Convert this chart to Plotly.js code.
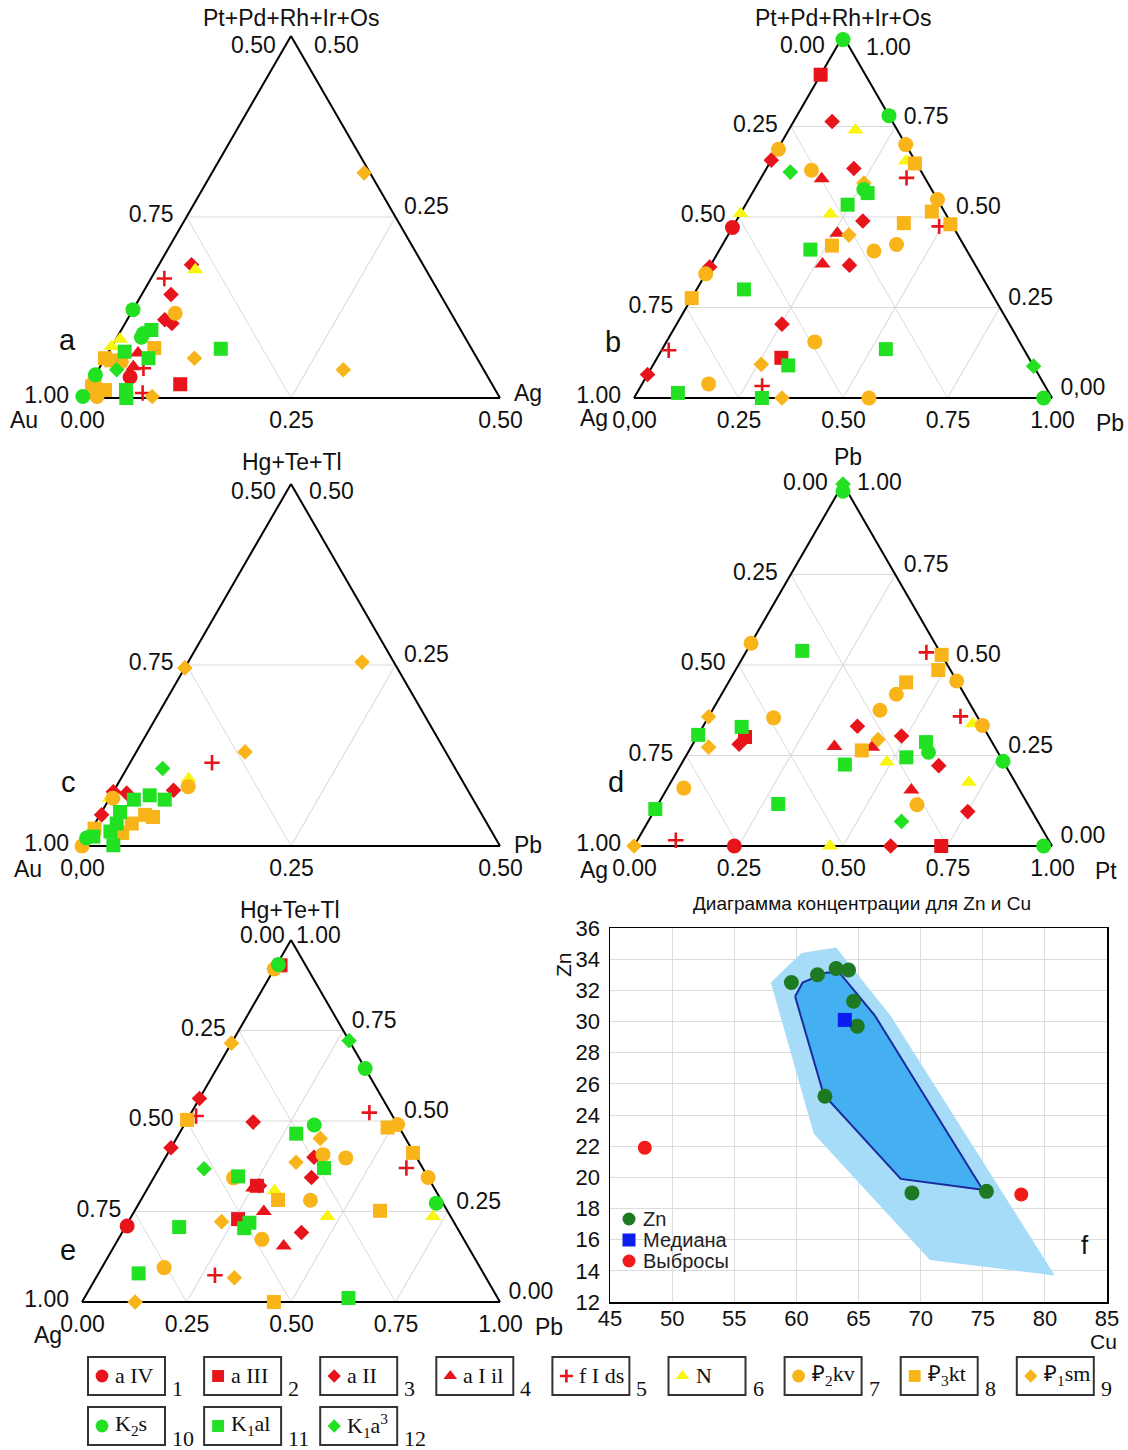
<!DOCTYPE html>
<html><head><meta charset="utf-8">
<script src="https://cdn.plot.ly/plotly-3.0.1.min.js"></script>
<style>html,body{margin:0;padding:0;background:#fff}</style>
</head><body><div id="chart" style="width:1128px;height:1450px"></div>
<script>
// ---------------- DATA ----------------
const categories = ['a IV','a III','a II','a I il','f I ds','N','₽<sub>2</sub>kv','₽<sub>3</sub>kt','₽<sub>1</sub>sm','K<sub>2</sub>s','K<sub>1</sub>al','K<sub>1</sub>a<sup>3</sup>'];
const categoryNumbers = ['1','2','3','4','5','6','7','8','9','10','11','12'];

// Panel a: Pt+Pd+Rh+Ir+Os (top) / Au (left) / Ag (right)
const A_cat   = [3,6,5,3,10,7,3,3,10,11,10,6,8,11,11,4,4,1,5,9,11,2,5,9,11,11,8,7,8,8,8,7,10,10,12,6,9,9,8,7];
const A_top   = [0.184,0.177,0.165,0.143,0.122,0.117,0.108,0.103,0.089,0.094,0.084,0.081,0.069,0.064,0.055,0.062,0.043,0.029,0.041,0.055,0.068,0.019,0.007,0.002,0.011,0.000,0.016,0.002,0.011,0.055,0.052,0.050,0.032,0.002,0.039,0.071,0.311,0.039,0.020,0.008];
const A_left  = [0.777,0.776,0.819,0.822,0.878,0.830,0.847,0.841,0.882,0.870,0.887,0.914,0.879,0.917,0.893,0.902,0.917,0.928,0.906,0.838,0.800,0.873,0.924,0.915,0.942,0.947,0.980,0.981,0.967,0.945,0.939,0.928,0.968,0.998,0.939,0.929,0.507,0.668,0.975,0.980];
const A_right = [0.039,0.047,0.016,0.035,0.000,0.053,0.045,0.056,0.029,0.036,0.029,0.005,0.052,0.019,0.052,0.036,0.040,0.043,0.053,0.107,0.132,0.108,0.069,0.083,0.047,0.053,0.004,0.017,0.022,0.000,0.009,0.022,0.000,0.000,0.022,0.000,0.182,0.293,0.005,0.012];

// Panel b: Pt+Pd+Rh+Ir+Os (top) / Ag (left) / Pb (right)
const B_cat   = [10,10,10,10,12,12,2,2,3,3,3,3,3,3,3,3,6,6,6,6,7,7,7,7,7,7,7,7,7,7,8,8,8,8,8,8,9,9,9,9,11,11,11,11,11,11,11,11,4,4,4,1,5,5,5,5];
const B_top   = [0.99,0.78,0.576,0.00,0.624,0.088,0.893,0.111,0.764,0.634,0.489,0.367,0.657,0.362,0.204,0.065,0.740,0.655,0.508,0.510,0.687,0.629,0.700,0.548,0.406,0.424,0.155,0.039,0.00,0.343,0.648,0.515,0.480,0.483,0.421,0.276,0.450,0.093,0.00,0.594,0.534,0.566,0.410,0.300,0.090,0.135,0.014,0.00,0.606,0.455,0.370,0.471,0.608,0.474,0.132,0.033];
const B_left  = [0.005,0.00,0.162,0.02,0.314,0.00,0.107,0.592,0.144,0.157,0.208,0.301,0.343,0.638,0.544,0.935,0.100,0.022,0.276,0.490,0.311,0.261,0.00,0.00,0.223,0.160,0.490,0.802,0.438,0.657,0.004,0.030,0.003,0.113,0.316,0.724,0.261,0.649,0.646,0.153,0.222,0.158,0.373,0.587,0.586,0.330,0.888,0.694,0.248,0.286,0.364,0.529,0.044,0.033,0.851,0.677];
const B_right = [0.005,0.22,0.262,0.98,0.062,0.912,0.00,0.297,0.092,0.209,0.303,0.332,0.00,0.00,0.252,0.00,0.160,0.323,0.216,0.00,0.002,0.110,0.300,0.452,0.371,0.416,0.355,0.159,0.562,0.00,0.348,0.455,0.517,0.404,0.263,0.00,0.289,0.258,0.354,0.253,0.244,0.276,0.217,0.113,0.324,0.535,0.098,0.306,0.146,0.259,0.266,0.00,0.348,0.493,0.017,0.290];

// Panel c: Hg+Te+Tl (top) / Au (left) / Pb (right)
const C_cat   = [12,5,6,7,3,11,11,11,11,11,11,11,11,8,8,8,8,7,3,3,3,6,7,10,9,9,9,8];
const C_top   = [0.107,0.115,0.093,0.082,0.077,0.064,0.070,0.064,0.047,0.031,0.020,0.001,0.013,0.043,0.031,0.018,0.024,0.000,0.043,0.075,0.073,0.066,0.066,0.011,0.246,0.254,0.130,0.040];
const C_left  = [0.850,0.787,0.826,0.832,0.852,0.869,0.884,0.906,0.931,0.943,0.956,0.962,0.980,0.903,0.925,0.943,0.973,1.000,0.955,0.925,0.910,0.934,0.930,0.989,0.754,0.538,0.740,0.895];
const C_right = [0.043,0.098,0.081,0.086,0.071,0.067,0.046,0.030,0.022,0.026,0.024,0.037,0.007,0.054,0.044,0.039,0.003,0.000,0.002,0.000,0.017,0.000,0.004,0.000,0.000,0.208,0.130,0.065];

// Panel d: Pb (top) / Ag (left) / Pt (right)
const D_cat   = [10,12,10,10,10,12,7,7,7,7,7,7,7,7,8,8,8,8,9,9,9,9,11,11,11,11,11,11,11,11,3,3,3,3,3,3,2,2,4,4,4,6,6,6,6,1,5,5,5];
const D_top   = [0.98,1.00,0.234,0.00,0.259,0.068,0.560,0.354,0.160,0.375,0.419,0.456,0.333,0.114,0.528,0.486,0.452,0.264,0.357,0.273,0.294,0.00,0.539,0.329,0.307,0.287,0.245,0.225,0.116,0.102,0.331,0.304,0.222,0.095,0.281,0.00,0.301,0.00,0.275,0.273,0.155,0.232,0.176,0.338,0.00,0.00,0.535,0.358,0.016];
const D_left  = [0.01,0.00,0.00,0.02,0.166,0.326,0.440,0.489,0.801,0.224,0.163,0.00,0.00,0.266,0.00,0.029,0.123,0.323,0.643,0.685,0.269,1.00,0.328,0.578,0.693,0.158,0.226,0.383,0.597,0.898,0.300,0.208,0.160,0.154,0.608,0.386,0.584,0.265,0.383,0.294,0.259,0.279,0.111,0.021,0.531,0.760,0.033,0.040,0.892];
const D_right = [0.01,0.00,0.766,0.98,0.575,0.606,0.00,0.157,0.039,0.401,0.418,0.544,0.667,0.620,0.472,0.485,0.425,0.413,0.00,0.042,0.437,0.00,0.133,0.093,0.00,0.555,0.529,0.392,0.287,0.00,0.369,0.488,0.618,0.751,0.111,0.614,0.115,0.735,0.342,0.433,0.586,0.489,0.713,0.641,0.469,0.240,0.432,0.602,0.092];

// Panel e: Hg+Te+Tl (top) / Ag (left) / Pb (right)
const E_cat   = [2,10,10,10,10,12,12,7,7,7,7,7,7,7,7,7,2,2,9,9,9,9,9,9,3,3,3,3,3,3,3,8,8,8,8,8,8,5,5,5,5,11,11,11,11,11,11,11,11,4,4,4,6,6,6,1];
const E_top   = [0.93,0.932,0.645,0.489,0.273,0.722,0.368,0.920,0.407,0.398,0.490,0.344,0.281,0.173,0.095,0.343,0.229,0.321,0.715,0.452,0.386,0.222,0.067,0.00,0.562,0.426,0.497,0.400,0.344,0.192,0.321,0.503,0.482,0.412,0.282,0.252,0.00,0.514,0.523,0.370,0.074,0.465,0.370,0.347,0.219,0.204,0.207,0.079,0.011,0.315,0.250,0.155,0.307,0.236,0.236,0.210];
const E_left  = [0.06,0.064,0.00,0.200,0.016,0.00,0.524,0.080,0.220,0.170,0.00,0.00,0.313,0.483,0.756,0.466,0.512,0.421,0.285,0.204,0.295,0.555,0.602,0.873,0.438,0.574,0.342,0.245,0.279,0.379,0.415,0.497,0.028,0.002,0.390,0.161,0.541,0.470,0.051,0.039,0.645,0.255,0.236,0.453,0.490,0.510,0.664,0.825,0.357,0.433,0.440,0.440,0.386,0.295,0.042,0.787];
const E_right = [0.01,0.004,0.355,0.311,0.711,0.278,0.108,0.00,0.373,0.432,0.510,0.656,0.406,0.344,0.149,0.191,0.259,0.258,0.00,0.344,0.319,0.223,0.331,0.127,0.00,0.00,0.161,0.355,0.377,0.429,0.264,0.00,0.490,0.586,0.328,0.587,0.459,0.016,0.426,0.591,0.281,0.280,0.394,0.200,0.291,0.286,0.129,0.096,0.632,0.252,0.310,0.405,0.307,0.469,0.722,0.003];

// Tick labels (left edge from bottom to apex, bottom edge from left, right edge from apex)
const A_leftTicks = ['1.00','0.75','0.50'], A_bottomTicks = ['0.00','0.25','0.50'], A_rightTicks = ['0.50','0.25'];
const B_leftTicks = ['1.00','0.75','0.50','0.25','0.00'], B_bottomTicks = ['0,00','0.25','0.50','0.75','1.00'], B_rightTicks = ['1.00','0.75','0.50','0.25','0,00'];
const C_leftTicks = ['1.00','0.75','0.50'], C_bottomTicks = ['0,00','0.25','0.50'], C_rightTicks = ['0.50','0.25'];
const D_leftTicks = ['1.00','0.75','0.50','0.25','0.00'], D_bottomTicks = ['0.00','0.25','0.50','0.75','1.00'], D_rightTicks = ['1.00','0.75','0.50','0.25','0.00'];
const E_leftTicks = ['1.00','0.75','0.50','0.25','0.00'], E_bottomTicks = ['0.00','0.25','0.50','0.75','1.00'], E_rightTicks = ['1.00','0.75','0.50','0.25','0.00'];

// Panel f: Zn vs Cu
const F_cu = [59.6,61.7,63.2,64.2,64.6,64.9,62.3,69.3,75.3];
const F_zn = [32.5,33.0,33.4,33.3,31.3,29.7,25.2,19.0,19.1];
const F_medianCu = [63.9], F_medianZn = [30.1];
const F_outlierCu = [47.8,78.1], F_outlierZn = [21.9,18.9];
const F_outerCu = [57.95,60.4,63.2,67.6,80.8,70.75,61.4,57.95];
const F_outerZn = [32.5,34.4,34.75,30.35,13.7,14.7,22.8,32.5];
const F_innerCu = [59.9,60.5,62.45,63.5,66.3,75.0,68.4,62.2,59.9];
const F_innerZn = [31.6,32.5,33.15,33.1,30.4,19.2,19.9,25.3,31.6];
const F_legendLabels = ['Zn','Медиана','Выбросы'];

// ---------------- STYLE ----------------
const W = 1128, H = 1450;
const SIDE = 418, TRI_H = SIDE * Math.sqrt(3) / 2;
const FONT = 'Liberation Sans, Arial, sans-serif';
const SERIF = 'Liberation Serif, Times New Roman, serif';
const RED = '#e8141b', YEL = '#f8f510', ORG = '#f8b419', GRN = '#22e022';
const SYMBOLS = ['circle','square','diamond','triangle-up','cross-thin','triangle-up','circle','square','diamond','circle','square','diamond'];
const COLORS = [RED,RED,RED,RED,RED,YEL,ORG,ORG,ORG,GRN,GRN,GRN];
const SIZES = {'circle':15,'square':14,'diamond':12,'triangle-up':14,'cross-thin':11};

function markerFor(k, scale) {
  const sym = SYMBOLS[k];
  const m = {symbol: sym, size: SIZES[sym] * (scale || 1), color: COLORS[k]};
  m.line = sym === 'cross-thin' ? {color: COLORS[k], width: 2.6} : {width: 0};
  return m;
}

// layout placement of each triangle (bottom-left corner x, baseline y) and of its apex labels
const panels = [
  {id:'ternary',  cat:A_cat, top:A_top, left:A_left, right:A_right, blx:82,  bottom:398,  zoom:true,  lt:A_leftTicks, bt:A_bottomTicks, rt:A_rightTicks, apexL:[253,45],  apexR:[337,45]},
  {id:'ternary2', cat:B_cat, top:B_top, left:B_left, right:B_right, blx:634, bottom:398,  zoom:false, lt:B_leftTicks, bt:B_bottomTicks, rt:B_rightTicks, apexL:[802,45],  apexR:[888,47]},
  {id:'ternary3', cat:C_cat, top:C_top, left:C_left, right:C_right, blx:82,  bottom:846,  zoom:true,  lt:C_leftTicks, bt:C_bottomTicks, rt:C_rightTicks, apexL:[253,491], apexR:[331,491]},
  {id:'ternary4', cat:D_cat, top:D_top, left:D_left, right:D_right, blx:634, bottom:846,  zoom:false, lt:D_leftTicks, bt:D_bottomTicks, rt:D_rightTicks, apexL:[806,482], apexR:[879,482]},
  {id:'ternary5', cat:E_cat, top:E_top, left:E_left, right:E_right, blx:82,  bottom:1302, zoom:false, lt:E_leftTicks, bt:E_bottomTicks, rt:E_rightTicks, apexL:[262,935], apexR:[318,935]}
];

const traces = [];
const layout = {
  width: W, height: H, margin: {l:0, r:0, t:0, b:0},
  paper_bgcolor: '#ffffff', plot_bgcolor: 'rgba(0,0,0,0)',
  font: {family: FONT, color: '#111', size: 20},
  showlegend: false,
  annotations: [], shapes: []
};

function ternAxis(min, vals, text, len) {
  return {min: min, tickmode: 'array', tickvals: vals, ticktext: text,
    showline: true, linecolor: '#000', linewidth: 2,
    showgrid: true, gridcolor: '#d9d9d9', gridwidth: 1,
    ticks: 'outside', ticklen: len, tickwidth: 1, tickcolor: 'rgba(0,0,0,0)',
    tickfont: {size: 23, color: '#111', family: FONT}, layer: 'below traces', title: {text: ''}};
}

function ann(text, x, y, size, extra) {
  layout.annotations.push(Object.assign({text: text, x: x / W, y: 1 - y / H, xref: 'paper', yref: 'paper',
    showarrow: false, font: {size: size, family: FONT, color: '#111'}, xanchor: 'center', yanchor: 'middle'}, extra || {}));
}

panels.forEach(p => {
  const n = p.lt.length;
  // apex tick labels are placed separately (as in the reference, they sit beside/below the apex)
  const vA = (p.zoom ? [0,0.25,0.5] : [0,0.25,0.5,0.75,1]).slice(0, n - 1);
  const vB = p.zoom ? [1,0.75,0.5] : [1,0.75,0.5,0.25,0];
  const vC = (p.zoom ? [0,0.25] : [0,0.25,0.5,0.75,1]).slice(1);
  layout[p.id] = {
    domain: {x: [p.blx / W, (p.blx + SIDE) / W], y: [1 - p.bottom / H, 1 - (p.bottom - TRI_H) / H]},
    sum: 1, bgcolor: 'rgba(0,0,0,0)',
    aaxis: ternAxis(0, vA, p.lt.slice(0, n - 1), 9),
    baxis: ternAxis(p.zoom ? 0.5 : 0, vB, p.bt, 1),
    caxis: ternAxis(0, vC, p.rt.slice(1), 9)
  };
  ann(p.lt[n - 1], p.apexL[0], p.apexL[1], 23);
  ann(p.rt[0], p.apexR[0], p.apexR[1], 23);
  for (let k = 0; k < 12; k++) {
    const idx = [];
    p.cat.forEach((c, i) => { if (c === k + 1) idx.push(i); });
    if (!idx.length) continue;
    traces.push({type: 'scatterternary', subplot: p.id, mode: 'markers',
      a: idx.map(i => p.top[i]), b: idx.map(i => p.left[i]), c: idx.map(i => p.right[i]),
      marker: markerFor(k), cliponaxis: false, showlegend: false, hoverinfo: 'skip'});
  }
});

// Panel titles, corner labels, letters
ann('Pt+Pd+Rh+Ir+Os', 291, 18, 23); ann('Au', 24, 420, 23); ann('Ag', 528, 393, 23); ann('a', 67, 340, 29);
ann('Pt+Pd+Rh+Ir+Os', 843, 18, 23); ann('Ag', 594, 418, 23); ann('Pb', 1110, 423, 23); ann('b', 613, 342, 29);
ann('Hg+Te+Tl', 292, 462, 23); ann('Au', 28, 869, 23); ann('Pb', 528, 845, 23); ann('c', 68, 782, 29);
ann('Pb', 848, 457, 23); ann('Ag', 594, 870, 23); ann('Pt', 1106, 871, 23); ann('d', 616, 782, 29);
ann('Hg+Te+Tl', 290, 910, 23); ann('Ag', 48, 1335, 23); ann('Pb', 549, 1327, 23); ann('e', 68, 1250, 29);
ann('Диаграмма концентрации для Zn и Cu', 862, 903, 19);
ann('Cu', 1103, 1341, 21); ann('Zn', 563, 965, 21, {textangle: -90}); ann('f', 1085, 1245, 26);

// Panel f
layout.xaxis = {domain: [610/W, 1107/W], range: [45, 85], tick0: 45, dtick: 5, anchor: 'y',
  showgrid: true, gridcolor: '#dcdcdc', zeroline: false, showline: true, mirror: true, linecolor: '#000', linewidth: 1.5,
  ticks: '', ticklabelstandoff: -4, tickfont: {size: 22, family: FONT, color: '#111'}, fixedrange: true};
layout.yaxis = {domain: [1 - 1302/H, 1 - 928/H], range: [12, 36], tick0: 12, dtick: 2, anchor: 'x',
  showgrid: true, gridcolor: '#dcdcdc', zeroline: false, showline: true, mirror: true, linecolor: '#000', linewidth: 1.5,
  ticks: '', ticklabelstandoff: 4, tickfont: {size: 22, family: FONT, color: '#111'}, fixedrange: true};
traces.push({type: 'scatter', x: F_outerCu, y: F_outerZn, xaxis: 'x', yaxis: 'y', mode: 'lines', fill: 'toself',
  fillcolor: '#a6dcf8', line: {width: 0, color: '#a6dcf8'}, showlegend: false, hoverinfo: 'skip'});
traces.push({type: 'scatter', x: F_innerCu, y: F_innerZn, xaxis: 'x', yaxis: 'y', mode: 'lines', fill: 'toself',
  fillcolor: '#44b0f2', line: {width: 2, color: '#1b2a9e'}, showlegend: false, hoverinfo: 'skip'});
const F_MARKERS = [{symbol: 'circle', size: 15, color: '#1d7a22'}, {symbol: 'square', size: 14, color: '#0b1ef0'}, {symbol: 'circle', size: 14, color: '#f01c1c'}];
traces.push({type: 'scatter', name: F_legendLabels[0], x: F_cu, y: F_zn, xaxis: 'x', yaxis: 'y', mode: 'markers',
  marker: F_MARKERS[0], cliponaxis: false, hoverinfo: 'skip'});
traces.push({type: 'scatter', name: F_legendLabels[1], x: F_medianCu, y: F_medianZn, xaxis: 'x', yaxis: 'y', mode: 'markers',
  marker: F_MARKERS[1], cliponaxis: false, hoverinfo: 'skip'});
traces.push({type: 'scatter', name: F_legendLabels[2], x: F_outlierCu, y: F_outlierZn, xaxis: 'x', yaxis: 'y', mode: 'markers',
  marker: F_MARKERS[2], cliponaxis: false, hoverinfo: 'skip'});

// Page-level hidden axis used for legend decorations
layout.xaxis2 = {domain: [0, 1], range: [0, W], visible: false, anchor: 'y2', fixedrange: true};
layout.yaxis2 = {domain: [0, 1], range: [H, 0], visible: false, anchor: 'x2', fixedrange: true};

// Panel f legend
F_legendLabels.forEach((label, i) => {
  const y = 1219 + 21 * i;
  const mk = Object.assign({}, F_MARKERS[i], {size: 13});
  traces.push({type: 'scatter', xaxis: 'x2', yaxis: 'y2', mode: 'markers', x: [629], y: [y], marker: mk,
    showlegend: false, hoverinfo: 'skip', cliponaxis: false});
  layout.annotations.push({text: label, xref: 'x2', yref: 'y2', x: 641, y: y, xanchor: 'left', yanchor: 'middle',
    showarrow: false, font: {size: 20, family: FONT, color: '#222'}});
});

// Bottom category legend
categories.forEach((label, k) => {
  const col = k % 9, row = Math.floor(k / 9);
  const left = 88 + 116.1 * col, top = 1357 + 50 * row;
  layout.shapes.push({type: 'rect', xref: 'x2', yref: 'y2', x0: left, x1: left + 77, y0: top, y1: top + 38,
    line: {color: '#333', width: 2}, fillcolor: 'rgba(0,0,0,0)'});
  layout.annotations.push({text: label, xref: 'x2', yref: 'y2', x: left + 25, y: top + 18, xanchor: 'left', yanchor: 'middle',
    showarrow: false, font: {size: 22, family: SERIF, color: '#111'}});
  layout.annotations.push({text: categoryNumbers[k], xref: 'x2', yref: 'y2', x: left + 82, y: top + 31, xanchor: 'left', yanchor: 'middle',
    showarrow: false, font: {size: 22, family: SERIF, color: '#111'}});
  traces.push({type: 'scatter', xaxis: 'x2', yaxis: 'y2', mode: 'markers', x: [left + 14], y: [top + 19],
    marker: markerFor(k, 0.85), showlegend: false, hoverinfo: 'skip', cliponaxis: false});
});

Plotly.newPlot('chart', traces, layout, {staticPlot: true, displayModeBar: false});
</script>
</body></html>
